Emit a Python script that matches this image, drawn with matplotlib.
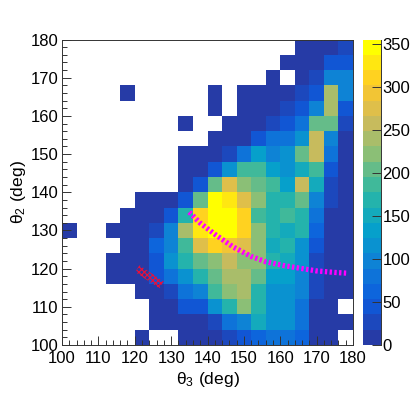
import matplotlib
matplotlib.use('Agg')
import matplotlib.pyplot as plt
from matplotlib.colors import LinearSegmentedColormap, BoundaryNorm
from matplotlib.ticker import MultipleLocator
import numpy as np

plt.rcParams['font.family'] = ['Liberation Sans', 'DejaVu Sans']
plt.rcParams['mathtext.fontset'] = 'custom'
plt.rcParams['mathtext.rm'] = 'Liberation Sans'
plt.rcParams['mathtext.it'] = 'Liberation Sans'
plt.rcParams['hatch.linewidth'] = 0.85

theta3_edges = np.arange(100, 184, 4)
theta2_edges = np.arange(100, 184, 4)

# counts per bin, top row (176-180) first, columns 100 -> 176
counts = [
    [0, 0, 0, 0, 0, 0, 0, 0, 0, 0, 0, 0, 0, 0, 0, 0, 10, 10, 10, 25],
    [0, 0, 0, 0, 0, 0, 0, 0, 0, 0, 0, 0, 0, 0, 0, 10, 10, 10, 45, 45],
    [0, 0, 0, 0, 0, 0, 0, 0, 0, 0, 0, 0, 0, 0, 10, 0, 10, 30, 105, 90],
    [0, 0, 0, 0, 10, 0, 0, 0, 0, 0, 10, 0, 10, 10, 10, 10, 25, 45, 240, 90],
    [0, 0, 0, 0, 0, 0, 0, 0, 0, 0, 10, 0, 10, 10, 10, 30, 45, 105, 240, 45],
    [0, 0, 0, 0, 0, 0, 0, 0, 10, 0, 0, 10, 10, 10, 30, 45, 75, 205, 205, 25],
    [0, 0, 0, 0, 0, 0, 0, 0, 0, 0, 10, 10, 10, 45, 75, 85, 115, 265, 90, 10],
    [0, 0, 0, 0, 0, 0, 0, 0, 10, 10, 10, 30, 75, 125, 90, 110, 205, 265, 75, 10],
    [0, 0, 0, 0, 0, 0, 0, 0, 10, 10, 45, 115, 195, 190, 140, 115, 155, 190, 45, 10],
    [0, 0, 0, 0, 0, 0, 0, 0, 10, 50, 205, 270, 225, 210, 185, 140, 250, 150, 30, 10],
    [0, 0, 0, 0, 0, 10, 10, 10, 45, 200, 355, 335, 280, 225, 165, 165, 205, 95, 30, 10],
    [0, 0, 0, 0, 10, 10, 10, 45, 165, 310, 355, 338, 310, 190, 160, 190, 165, 80, 10, 10],
    [10, 0, 0, 10, 10, 10, 30, 90, 235, 335, 355, 340, 310, 220, 160, 145, 165, 55, 10, 10],
    [0, 0, 0, 0, 10, 10, 65, 105, 185, 270, 310, 285, 270, 220, 145, 165, 115, 45, 10, 10],
    [0, 0, 0, 10, 10, 10, 45, 110, 165, 210, 215, 265, 225, 225, 165, 150, 110, 30, 10, 10],
    [0, 0, 0, 10, 10, 10, 50, 75, 110, 175, 205, 245, 245, 200, 135, 125, 105, 30, 10, 10],
    [0, 0, 0, 0, 0, 10, 10, 30, 75, 90, 195, 225, 245, 165, 120, 120, 90, 30, 10, 10],
    [0, 0, 0, 0, 0, 0, 10, 10, 50, 50, 110, 160, 230, 165, 120, 120, 80, 10, 10, 0],
    [0, 0, 0, 0, 0, 0, 10, 10, 10, 10, 30, 75, 105, 155, 110, 110, 85, 10, 10, 10],
    [0, 0, 0, 0, 0, 10, 0, 0, 10, 10, 10, 30, 40, 70, 85, 85, 65, 10, 10, 0],
]

# magenta curve
curve_t3 = [135, 137.9, 142, 147, 152, 156, 161, 165.4, 170, 175, 178.6]
curve_t2 = [134.8, 132, 129, 125.7, 123.2, 121.8, 120.8, 120.1, 119.4, 119, 118.8]

# red band: centre line and half width
band_t3 = np.array([120.7, 127.4])
band_t2 = np.array([120.0, 115.7])
band_half_t3 = 0.6
band_half_t2 = 0.9

bird_stops = [0.0, 0.125, 0.25, 0.375, 0.5, 0.625, 0.75, 0.875, 1.0]
bird_r = [0.15, 0.05, 0.06, 0.02, 0.18, 0.53, 0.82, 1.0, 1.0]
bird_g = [0.23, 0.36, 0.50, 0.64, 0.72, 0.75, 0.73, 0.79, 1.0]
bird_b = [0.65, 0.87, 0.84, 0.79, 0.64, 0.47, 0.35, 0.15, 0.0]
bird = LinearSegmentedColormap.from_list(
    'bird', [(s, (r, g, b)) for s, r, g, b in zip(bird_stops, bird_r, bird_g, bird_b)])

zmax = 355
levels = np.linspace(0, zmax, 21)
norm = BoundaryNorm(levels, 256)

z = np.ma.masked_equal(np.array(counts[::-1], dtype=float), 0)

fig = plt.figure(figsize=(4.15, 3.94), dpi=100)
W, H = 415.0, 394.0
ax = fig.add_axes([62 / W, (H - 345) / H, 291 / W, 305.5 / H])
mesh = ax.pcolormesh(theta3_edges, theta2_edges, z, cmap=bird, norm=norm)

ax.plot(curve_t3, curve_t2, color='#ff00ff', lw=3.8, ls=(0, (0.45, 0.45)))
ax.fill(np.r_[band_t3 + band_half_t3, (band_t3 - band_half_t3)[::-1]],
        np.r_[band_t2 + band_half_t2, (band_t2 - band_half_t2)[::-1]],
        facecolor='none', edgecolor='#e8103a', hatch='xxxxxx', lw=0)

ax.set_xlim(100, 180)
ax.set_ylim(100, 180)
ax.xaxis.set_major_locator(MultipleLocator(10))
ax.xaxis.set_minor_locator(MultipleLocator(2))
ax.yaxis.set_major_locator(MultipleLocator(10))
ax.yaxis.set_minor_locator(MultipleLocator(2))
ax.tick_params(which='major', direction='in', length=6.5, width=0.7, color='#333333',
               labelsize=12, pad=2.5)
ax.tick_params(axis='x', which='major', pad=4)
ax.tick_params(which='minor', direction='in', length=3.3, width=0.7, color='#333333')
for s in ax.spines.values():
    s.set_linewidth(0.7)
    s.set_color('#333333')
ax.set_xlabel('θ$_{3}$ (deg)', fontsize=12.6)
ax.xaxis.set_label_coords(0.5, -0.082, transform=ax.transAxes)
ax.set_ylabel('θ$_{2}$ (deg)', fontsize=12.6)
ax.yaxis.set_label_coords(-0.117, 0.5, transform=ax.transAxes)

cax = fig.add_axes([363 / W, (H - 345) / H, 17.5 / W, 305.5 / H])
cb = fig.colorbar(mesh, cax=cax, spacing='proportional', drawedges=False)
cb.set_ticks(np.arange(0, 351, 50))
cb.ax.minorticks_off()
cax.tick_params(direction='in', length=6.5, width=0.7, color='#333333', labelsize=12, pad=1.5)
for n, s in cax.spines.items():
    s.set_visible(n == 'right')
    s.set_linewidth(0.7)
    s.set_color('#333333')
cb.outline.set_visible(False)

fig.savefig('out.png', dpi=100)
